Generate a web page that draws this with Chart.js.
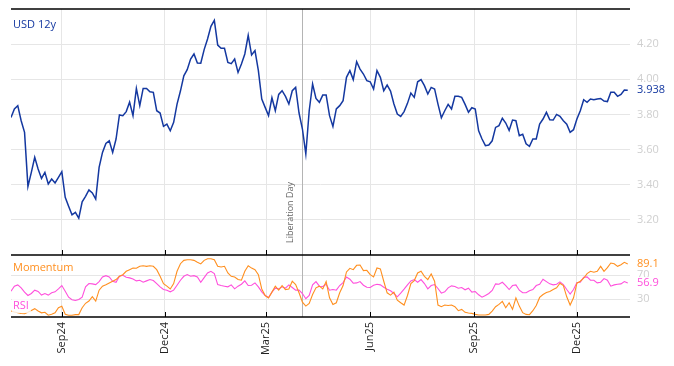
<!DOCTYPE html>
<html>
<head>
<meta charset="utf-8">
<script src="https://cdn.jsdelivr.net/npm/chart.js@4.4.1/dist/chart.umd.min.js"></script>
<style>
  html, body { margin: 0; padding: 0; background: #fff; }
</style>
</head>
<body>
<canvas id="chart" width="674" height="366"></canvas>
<script>
// series start date, one reading every 3 calendar days
const startDate = "2024-07-18";
const stepDays = 3;

const usd12y = [
  3.783,3.831,3.850,3.764,3.698,3.390,3.470,3.556,3.489,3.436,
  3.470,3.404,3.432,3.410,3.442,3.474,3.328,3.277,3.229,3.243,
  3.210,3.303,3.334,3.370,3.353,3.318,3.499,3.584,3.635,3.650,
  3.584,3.660,3.797,3.793,3.816,3.870,3.793,3.948,3.850,3.948,
  3.948,3.929,3.926,3.821,3.808,3.732,3.745,3.707,3.755,3.859,
  3.933,4.020,4.055,4.115,4.144,4.093,4.091,4.169,4.229,4.301,
  4.335,4.195,4.176,4.176,4.096,4.089,4.115,4.039,4.087,4.144,
  4.250,4.138,4.163,4.049,3.888,3.840,3.793,3.895,3.821,3.914,
  3.935,3.903,3.859,3.935,3.954,3.808,3.717,3.575,3.821,3.973,
  3.891,3.869,3.910,3.910,3.793,3.732,3.831,3.850,3.878,4.011,
  4.049,3.998,4.100,4.058,4.030,3.992,3.986,3.945,4.049,4.011,
  3.935,3.967,3.933,3.859,3.802,3.789,3.816,3.863,3.922,3.897,
  3.986,3.998,3.964,3.916,3.954,3.945,3.859,3.781,3.821,3.857,
  3.831,3.903,3.903,3.897,3.857,3.812,3.838,3.831,3.707,3.660,
  3.622,3.626,3.650,3.726,3.736,3.778,3.751,3.709,3.768,3.764,
  3.679,3.687,3.633,3.618,3.660,3.660,3.745,3.774,3.812,3.770,
  3.768,3.800,3.789,3.764,3.745,3.698,3.713,3.774,3.821,3.884,
  3.869,3.888,3.884,3.888,3.891,3.876,3.873,3.926,3.926,3.903,
  3.914,3.939,3.938
];

const momentum = [
  10,8.3,7.2,6,5.5,8,11,14,10,7,
  8,3,4.5,7,15.5,18,4.5,3,3,4,
  4,15.5,23,26.7,34,26.7,45,51.7,54,57,
  60,62.8,68.3,71,76.7,79.4,82,81.7,85,86,
  85,86,85,79.4,68.3,56,51.7,47,56,76.7,
  89.4,95,96,96,95,91.7,89,95,97.8,97.8,
  96,85,84,85,74,68.3,67,62.8,61.7,76.7,
  86,82,79.4,71,47,36,32,41.7,51.7,45,
  52.8,46,47,60,54.4,40.6,25,18.3,22.8,37.8,
  48.9,51.7,47.2,59.4,32.2,21.1,23.9,40.6,52.8,75.6,
  81.7,79.4,86.7,87.2,77.8,78.3,71.1,67.2,82.2,80.6,
  60,40.6,36.7,41.7,28.3,23.9,20,36.1,56.1,61.1,
  73.9,76.7,68.3,62.8,72.2,60,20,17.2,20,19.4,
  20,17.2,10.6,12.8,7.8,6.7,6.1,4.4,3.3,3.3,
  3.3,4.4,10,17.2,21.1,26.1,15.6,23.9,12.8,32.2,
  18.3,7.2,4.4,3.9,10.6,19.4,32.8,37.8,41.1,42.8,
  46.1,48.9,56.7,52.8,33.9,20,32.2,56.7,60,65,
  72.8,76.7,75,76.7,85,76.7,82.8,90.6,89.4,85,
  87.8,91.7,89.1
];

const rsi = [
  43.3,51.7,53.9,48.9,41.7,36.1,39.4,45,42.8,36.7,
  39.4,36.7,40.6,42.2,47.2,52.8,43.3,33.3,28.9,27.8,
  29.4,33.3,50.6,56.1,55.6,54.4,59.4,67.2,69.4,67.2,
  60,58.3,68.3,70,66.7,65.6,63.9,60.6,61.7,58.3,
  60.6,62.8,61.1,56.1,50.6,46.1,45,42.2,45,53.3,
  61.7,68.3,71.1,68.3,69.4,67.2,58.3,66.1,73.9,76.7,
  72.8,54.4,52.8,51.7,50.6,53.9,47.2,51.7,55,60.6,
  52.8,53.3,57.2,50.6,42.2,36.1,32.8,41.7,48.3,47.2,
  50.6,48.3,53.9,49.4,45,45,39.4,30.6,36.1,53.9,
  59.4,51.7,51.1,55,45,46.1,45,52.8,57.8,67.2,
  63.3,56.7,57.2,59.4,53.3,50,49.4,53.3,55,53.9,
  50,46.7,43.9,39.4,33.9,40,46.7,53.9,60.6,62.8,
  58.3,62.8,56.1,47.2,52.8,54.4,47.8,40,42.2,48.9,
  52.2,51.1,48.3,49.4,45.6,48.3,41.7,42.8,37.2,33.3,
  36.1,39.4,44.4,55.6,55,58.3,52.8,46.1,52.8,53.9,
  45,40.6,40.6,43.9,46.1,52.8,55,63.3,59.4,55.6,
  53.9,55,58.9,54.4,46.1,38.3,46.1,57.8,58.3,66.7,
  67.2,61.7,61.7,57.2,58.3,64.4,61.7,51.7,53.9,55,
  55.6,59.4,56.9
];

const tickDates = ["2024-09-01","2024-12-01","2025-03-01","2025-06-01","2025-09-01","2025-12-01"];
const tickLabels = ["Sep24","Dec24","Mar25","Jun25","Sep25","Dec25"];
const usdTicks = [3.2, 3.4, 3.6, 3.8, 4.0, 4.2];
const indTicks = [30, 70];
const eventDate = "2025-04-02";
const eventLabel = "Liberation Day";

const BLUE = "#1438a0";
const ORANGE = "#ff8f1f";
const PINK = "#ff4fdc";
const FONT = "'Open Sans', 'DejaVu Sans', sans-serif";

function dayOf(d){
  return Math.round((Date.parse(d) - Date.parse(startDate)) / 86400000);
}
const tickDays = tickDates.map(dayOf);

function toPoints(arr){
  return arr.map((v, i) => ({x: i * stepDays, y: v}));
}

// no extra room for half tick labels at the ends
function noPad(s){
  s.paddingTop = 0; s.paddingBottom = 0;
  s.paddingLeft = 0; s.paddingRight = 0;
}

// black rules, inner tick marks, labels on the panels
const panelPlugin = {
  id: "panels",
  beforeDatasetsDraw(chart){
    const {ctx, chartArea: a, scales} = chart;
    const lx = Math.round(scales.x.getPixelForValue(dayOf(eventDate))) + 0.5;
    ctx.save();
    ctx.strokeStyle = "#b4b4b4";
    ctx.lineWidth = 1;
    ctx.beginPath();
    ctx.moveTo(lx, a.top);
    ctx.lineTo(lx, a.bottom);
    ctx.stroke();
    ctx.translate(lx - 12, scales.y.bottom - 12);
    ctx.rotate(-Math.PI / 2);
    ctx.fillStyle = "#666";
    ctx.font = "9px " + FONT;
    ctx.textAlign = "left";
    ctx.textBaseline = "middle";
    ctx.fillText(eventLabel, 0, 0);
    ctx.restore();
  },
  afterDraw(chart){
    const {ctx, chartArea: a, scales} = chart;
    const mid = scales.y.bottom;
    ctx.save();
    ctx.strokeStyle = "#000";
    ctx.lineWidth = 1.5;
    [a.top, mid, a.bottom].forEach(y => {
      ctx.beginPath();
      ctx.moveTo(a.left, y);
      ctx.lineTo(a.right, y);
      ctx.stroke();
    });
    ctx.lineWidth = 1;
    tickDays.forEach(d => {
      const x = Math.round(scales.x.getPixelForValue(d)) + 0.5;
      [mid, a.bottom].forEach(y => {
        ctx.beginPath();
        ctx.moveTo(x, y);
        ctx.lineTo(x, y - 5);
        ctx.stroke();
      });
    });

    ctx.font = "11px " + FONT;
    ctx.textBaseline = "middle";
    ctx.textAlign = "left";

    function tag(text, color, y){
      const w = ctx.measureText(text).width;
      ctx.fillStyle = "rgba(255,255,255,0.8)";
      ctx.fillRect(12, y - 7, w + 3, 14);
      ctx.fillStyle = color;
      ctx.fillText(text, 13, y);
    }
    tag("USD 12y", BLUE, 25);
    tag("Momentum", ORANGE, 268);
    tag("RSI", PINK, 306);

    // last values on the right
    function last(text, color, y){
      const w = ctx.measureText(text).width;
      ctx.fillStyle = "#fff";
      ctx.fillRect(a.right + 5, y - 6, w + 4, 12);
      ctx.fillStyle = color;
      ctx.fillText(text, a.right + 7, y);
    }
    last(usd12y[usd12y.length - 1].toFixed(3), BLUE, scales.y.getPixelForValue(usd12y[usd12y.length - 1]));
    last(momentum[momentum.length - 1].toFixed(1), ORANGE, scales.y2.getPixelForValue(momentum[momentum.length - 1]));
    last(rsi[rsi.length - 1].toFixed(1), PINK, scales.y2.getPixelForValue(rsi[rsi.length - 1]));
    ctx.restore();
  }
};

new Chart(document.getElementById("chart"), {
  type: "line",
  data: {
    datasets: [
      {label: "USD 12y", data: toPoints(usd12y), yAxisID: "y", borderColor: BLUE, borderWidth: 1.5},
      {label: "Momentum", data: toPoints(momentum), yAxisID: "y2", borderColor: ORANGE, borderWidth: 1.1},
      {label: "RSI", data: toPoints(rsi), yAxisID: "y2", borderColor: PINK, borderWidth: 1.1}
    ]
  },
  options: {
    responsive: false,
    animation: false,
    devicePixelRatio: 1,
    layout: {padding: {left: 11, top: 9, right: 0, bottom: 0}},
    elements: {point: {radius: 0}, line: {tension: 0}},
    plugins: {legend: {display: false}, tooltip: {enabled: false}},
    scales: {
      x: {
        type: "linear",
        min: 0,
        max: 548,
        border: {display: false},
        grid: {color: "#e6e6e6", drawTicks: false},
        afterBuildTicks: s => { s.ticks = tickDays.map(v => ({value: v})); },
        afterFit: s => { s.height = 49; noPad(s); },
        ticks: {
          autoSkip: false,
          minRotation: 90,
          maxRotation: 90,
          padding: 5,
          color: "#222",
          font: {family: FONT, size: 11},
          callback: (v, i) => tickLabels[i]
        }
      },
      y: {
        position: "right",
        stack: "panels",
        stackWeight: 246,
        min: 3.0,
        max: 4.4,
        border: {display: false},
        grid: {color: "#e6e6e6", drawTicks: false},
        afterBuildTicks: s => { s.ticks = usdTicks.map(v => ({value: v})); },
        afterFit: s => { s.width = 44; noPad(s); },
        ticks: {
          padding: 7,
          color: "#cfcfcf",
          font: {family: FONT, size: 11},
          callback: v => v.toFixed(2)
        }
      },
      y2: {
        position: "right",
        stack: "panels",
        stackWeight: 62,
        min: 0,
        max: 104,
        border: {display: false},
        grid: {color: "#e6e6e6", drawTicks: false},
        afterBuildTicks: s => { s.ticks = indTicks.map(v => ({value: v})); },
        afterFit: s => { s.width = 44; noPad(s); },
        ticks: {
          padding: 7,
          color: "#cfcfcf",
          font: {family: FONT, size: 11},
          callback: v => String(v)
        }
      }
    }
  },
  plugins: [panelPlugin]
});
</script>
</body>
</html>
